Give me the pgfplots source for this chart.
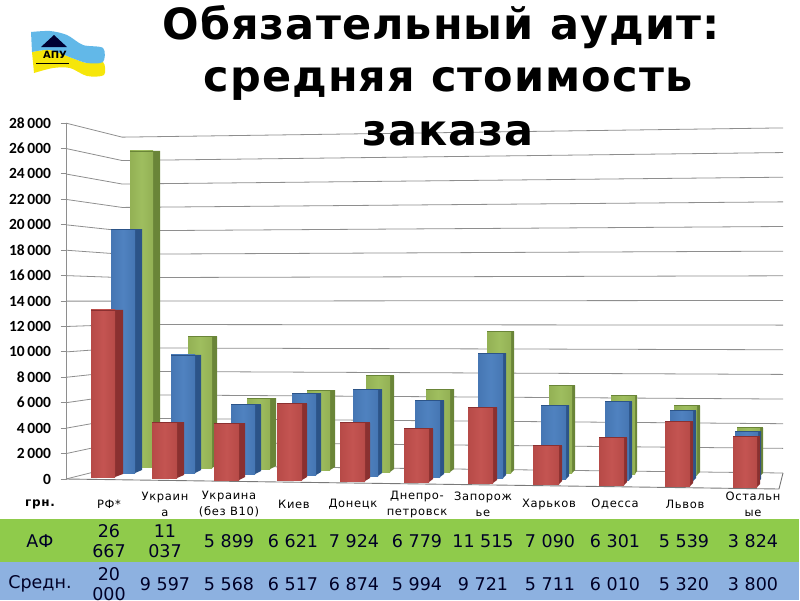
\documentclass[border=0pt]{standalone}
\usepackage{fontspec}
\setmainfont{DejaVu Sans}
\newfontfamily\tickfont{Carlito}[Ligatures=TeX]
\newfontfamily\hdrfont{DejaVu Sans}[LetterSpace=6]
\newfontfamily\titlefont{DejaVu Sans}[LetterSpace=2.5]
\usepackage{pgfplots}
\pgfplotsset{compat=1.18}

\definecolor{gridgray}{HTML}{8E8E8E}
\definecolor{redF}{HTML}{C24F4C}
\definecolor{redS}{HTML}{8A3030}
\definecolor{bluF}{HTML}{4A7EBE}
\definecolor{bluS}{HTML}{2C5488}
\definecolor{grnF}{HTML}{9CBC5A}
\definecolor{grnS}{HTML}{6A8538}
\definecolor{rowA}{HTML}{8FCB4B}
\definecolor{rowB}{HTML}{8DB1E0}
\definecolor{flagB}{HTML}{62B8E8}
\definecolor{flagY}{HTML}{F6E60A}

% colour, x left, x right, x side, base (px), value in thousands, k0, k1 (px per 1000 = k0+k1*x)
\newcommand{\pbar}[8]{%
  \pgfmathsetmacro{\ytop}{#5-#6*(#7+#8*#2)}%
  \pgfmathsetmacro{\yside}{#5-3}%
  \edef\doplot{%
    \noexpand\addplot[draw=none,fill=#1S] coordinates {(#3,\ytop) (#4,\ytop) (#4,\yside) (#3,#5)};%
    \noexpand\addplot[draw=none,left color=#1F!94!black,right color=#1F!94!black,middle color=#1F!97!white] coordinates {(#2,\ytop) (#3,\ytop) (#3,#5) (#2,#5)};%
    \noexpand\addplot[#1S,line width=0.9pt] coordinates {(#2,\ytop) (#4,\ytop)};%
  }\doplot}

\newcommand{\gline}[3]{\addplot[gridgray,line width=0.8pt] coordinates {(66,#1) (122,#2) (125,#2) (783,#3)};}

\begin{document}
\begin{tikzpicture}[x=1pt,y=1pt]
\path[use as bounding box] (0,0) rectangle (800,600);
\clip (0,0) rectangle (800,600);
\begin{axis}[
  at={(0,0)},anchor=south west,
  scale only axis,width=800pt,height=600pt,
  xmin=0,xmax=800,ymin=0,ymax=600,y dir=reverse,
  hide axis,clip=false,
]
% table rows
\addplot[draw=none,fill=rowA] coordinates {(0,519) (799,519) (799,562) (0,562)};
\addplot[draw=none,fill=rowB] coordinates {(0,562) (799,562) (799,600) (0,600)};

% logo
\addplot[smooth,draw=none,fill=flagY] coordinates {(32,52) (50,50) (72,58) (87,63) (103,62) (104,75) (87,76) (70,68) (53,68) (34,73)};
\addplot[smooth,draw=none,fill=flagB] coordinates {(31,32) (50,31) (67,35) (83,45) (103,48) (103,62) (87,63) (72,58) (50,50) (32,52)};
\addplot[draw=none,fill=black!80!blue] coordinates {(41,47) (54,35) (67,47)};
\node[font=\bfseries\fontsize{10}{10}\selectfont,inner sep=0pt] at (55,55) {АПУ};
\addplot[black,line width=0.8pt] coordinates {(36,63.5) (69,63.5)};

% gridlines: left wall, back wall
\gline{479}{465}{473}
\gline{453.6}{441.6}{448.35}
\gline{428.2}{418.2}{423.7}
\gline{402.7}{394.7}{399.05}
\gline{377.3}{371.3}{374.4}
\gline{351.9}{347.9}{349.75}
\gline{326.5}{324.5}{325.1}
\gline{301.1}{301.1}{300.45}
\gline{275.6}{277.6}{275.8}
\gline{250.2}{254.2}{251.15}
\gline{224.8}{230.8}{226.5}
\gline{199.4}{207.4}{201.85}
\gline{174}{184}{177.2}
\gline{148.5}{160.5}{152.55}
\gline{123.1}{137.1}{127.9}
% floor
\addplot[gridgray!85!black,line width=0.9pt] coordinates {(66,479) (779,489) (783,473)};

% АФ
\pbar{grn}{130}{153}{160}{467}{26.667}{11.69}{0.00124}
\pbar{grn}{188}{212}{217}{468}{11.037}{11.69}{0.00124}
\pbar{grn}{247}{270}{276}{469}{5.899}{11.69}{0.00124}
\pbar{grn}{307}{330}{335}{470}{6.621}{11.69}{0.00124}
\pbar{grn}{366}{390}{394}{472}{7.924}{11.69}{0.00124}
\pbar{grn}{426}{450}{454}{472}{6.779}{11.69}{0.00124}
\pbar{grn}{487}{511}{514}{473}{11.515}{11.69}{0.00124}
\pbar{grn}{549}{572}{575}{473}{7.090}{11.69}{0.00124}
\pbar{grn}{611}{635}{637}{474}{6.301}{11.69}{0.00124}
\pbar{grn}{674}{697}{700}{475}{5.539}{11.69}{0.00124}
\pbar{grn}{737}{760}{763}{476}{3.824}{11.69}{0.00124}
% Средн.
\pbar{blu}{111}{135}{142}{473}{20.000}{12.0}{0.00176}
\pbar{blu}{171}{195}{201}{473}{9.597}{12.0}{0.00176}
\pbar{blu}{231}{255}{261}{474}{5.568}{12.0}{0.00176}
\pbar{blu}{292}{316}{321}{475}{6.517}{12.0}{0.00176}
\pbar{blu}{353}{378}{382}{476}{6.874}{12.0}{0.00176}
\pbar{blu}{415}{440}{444}{477}{5.994}{12.0}{0.00176}
\pbar{blu}{478}{503}{506}{478}{9.721}{12.0}{0.00176}
\pbar{blu}{541}{566}{569}{479}{5.711}{12.0}{0.00176}
\pbar{blu}{605}{629}{632}{480}{6.010}{12.0}{0.00176}
\pbar{blu}{670}{693}{696}{481}{5.320}{12.0}{0.00176}
\pbar{blu}{735}{758}{761}{482}{3.800}{12.0}{0.00176}
% third row, cut off in the reference: estimated
\pbar{red}{91}{115}{123}{477}{13.1}{12.57}{0.002}
\pbar{red}{152}{177}{184}{478}{4.34}{12.57}{0.002}
\pbar{red}{214}{239}{245}{480}{4.38}{12.57}{0.002}
\pbar{red}{277}{302}{307}{480}{5.8}{12.57}{0.002}
\pbar{red}{340}{365}{370}{481}{4.39}{12.57}{0.002}
\pbar{red}{404}{429}{433}{482}{3.98}{12.57}{0.002}
\pbar{red}{468}{493}{497}{483}{5.6}{12.57}{0.002}
\pbar{red}{533}{559}{562}{484}{2.8}{12.57}{0.002}
\pbar{red}{599}{624}{627}{485}{3.43}{12.57}{0.002}
\pbar{red}{665}{690}{693}{486}{4.64}{12.57}{0.002}
\pbar{red}{733}{757}{760}{487}{3.57}{12.57}{0.002}

% title
\node[font=\titlefont\bfseries\fontsize{43}{43}\selectfont,inner sep=0pt] at (441,27) {Обязательный аудит:};
\node[font=\titlefont\bfseries\fontsize{43}{43}\selectfont,inner sep=0pt] at (448,84) {средняя стоимость};
\node[font=\titlefont\bfseries\fontsize{43}{43}\selectfont,inner sep=0pt] at (448,134) {заказа};

% table text
\tikzset{hd/.style={font=\hdrfont\fontsize{11.5}{16}\selectfont,align=center,inner sep=0pt},
         vl/.style={font=\fontsize{17.5}{20}\selectfont,align=center,inner sep=0pt,text=black!85!blue}}
\node[font=\hdrfont\bfseries\fontsize{12}{12}\selectfont,inner sep=0pt] at (40,504) {грн.};
\node[hd] at (109,504) {РФ*};
\node[hd] at (165,504) {Украин\\а};
\node[hd] at (229,504) {Украина\\(без В10)};
\node[hd] at (294,504) {Киев};
\node[hd] at (353,504) {Донецк};
\node[hd] at (417,504) {Днепро-\\петровск};
\node[hd] at (483,504) {Запорож\\ье};
\node[hd] at (549,504) {Харьков};
\node[hd] at (615,504) {Одесса};
\node[hd] at (685,504) {Львов};
\node[hd] at (753,504) {Остальн\\ые};

\node[vl] at (40,541) {АФ};
\node[vl] at (109,541) {26\\667};
\node[vl] at (165,541) {11\\037};
\node[vl] at (229,541) {5 899};
\node[vl] at (293,541) {6 621};
\node[vl] at (354,541) {7 924};
\node[vl] at (417,541) {6 779};
\node[vl] at (483,541) {11 515};
\node[vl] at (550,541) {7 090};
\node[vl] at (615,541) {6 301};
\node[vl] at (684,541) {5 539};
\node[vl] at (753,541) {3 824};

\node[vl] at (40,584) {Средн.};
\node[vl] at (109,584) {20\\000};
\node[vl] at (165,584) {9 597};
\node[vl] at (229,584) {5 568};
\node[vl] at (293,584) {6 517};
\node[vl] at (354,584) {6 874};
\node[vl] at (417,584) {5 994};
\node[vl] at (483,584) {9 721};
\node[vl] at (550,584) {5 711};
\node[vl] at (615,584) {6 010};
\node[vl] at (684,584) {5 320};
\node[vl] at (753,584) {3 800};
\end{axis}

% value axis
\begin{axis}[
  at={(66.5pt,121pt)},anchor=south west,
  scale only axis,width=1pt,height=356pt,
  xmin=0,xmax=1,ymin=0,ymax=28000,
  axis y line=left,axis x line=none,
  axis line style={gridgray,-,line width=0.8pt},
  xtick=\empty,
  ytick={0,2000,...,28000},
  scaled y ticks=false,
  tick style={gridgray,line width=0.8pt},
  tick align=outside,major tick length=6pt,
  tick label style={font=\tickfont\bfseries\fontsize{15.5}{15.5}\selectfont,black},
  yticklabel style={xshift=-6pt},
  /pgf/number format/.cd,assume math mode=true,1000 sep={\,},fixed,precision=0,
]
\addplot[draw=none,forget plot] coordinates {(0,0) (1,28000)};
\end{axis}
\end{tikzpicture}
\end{document}
